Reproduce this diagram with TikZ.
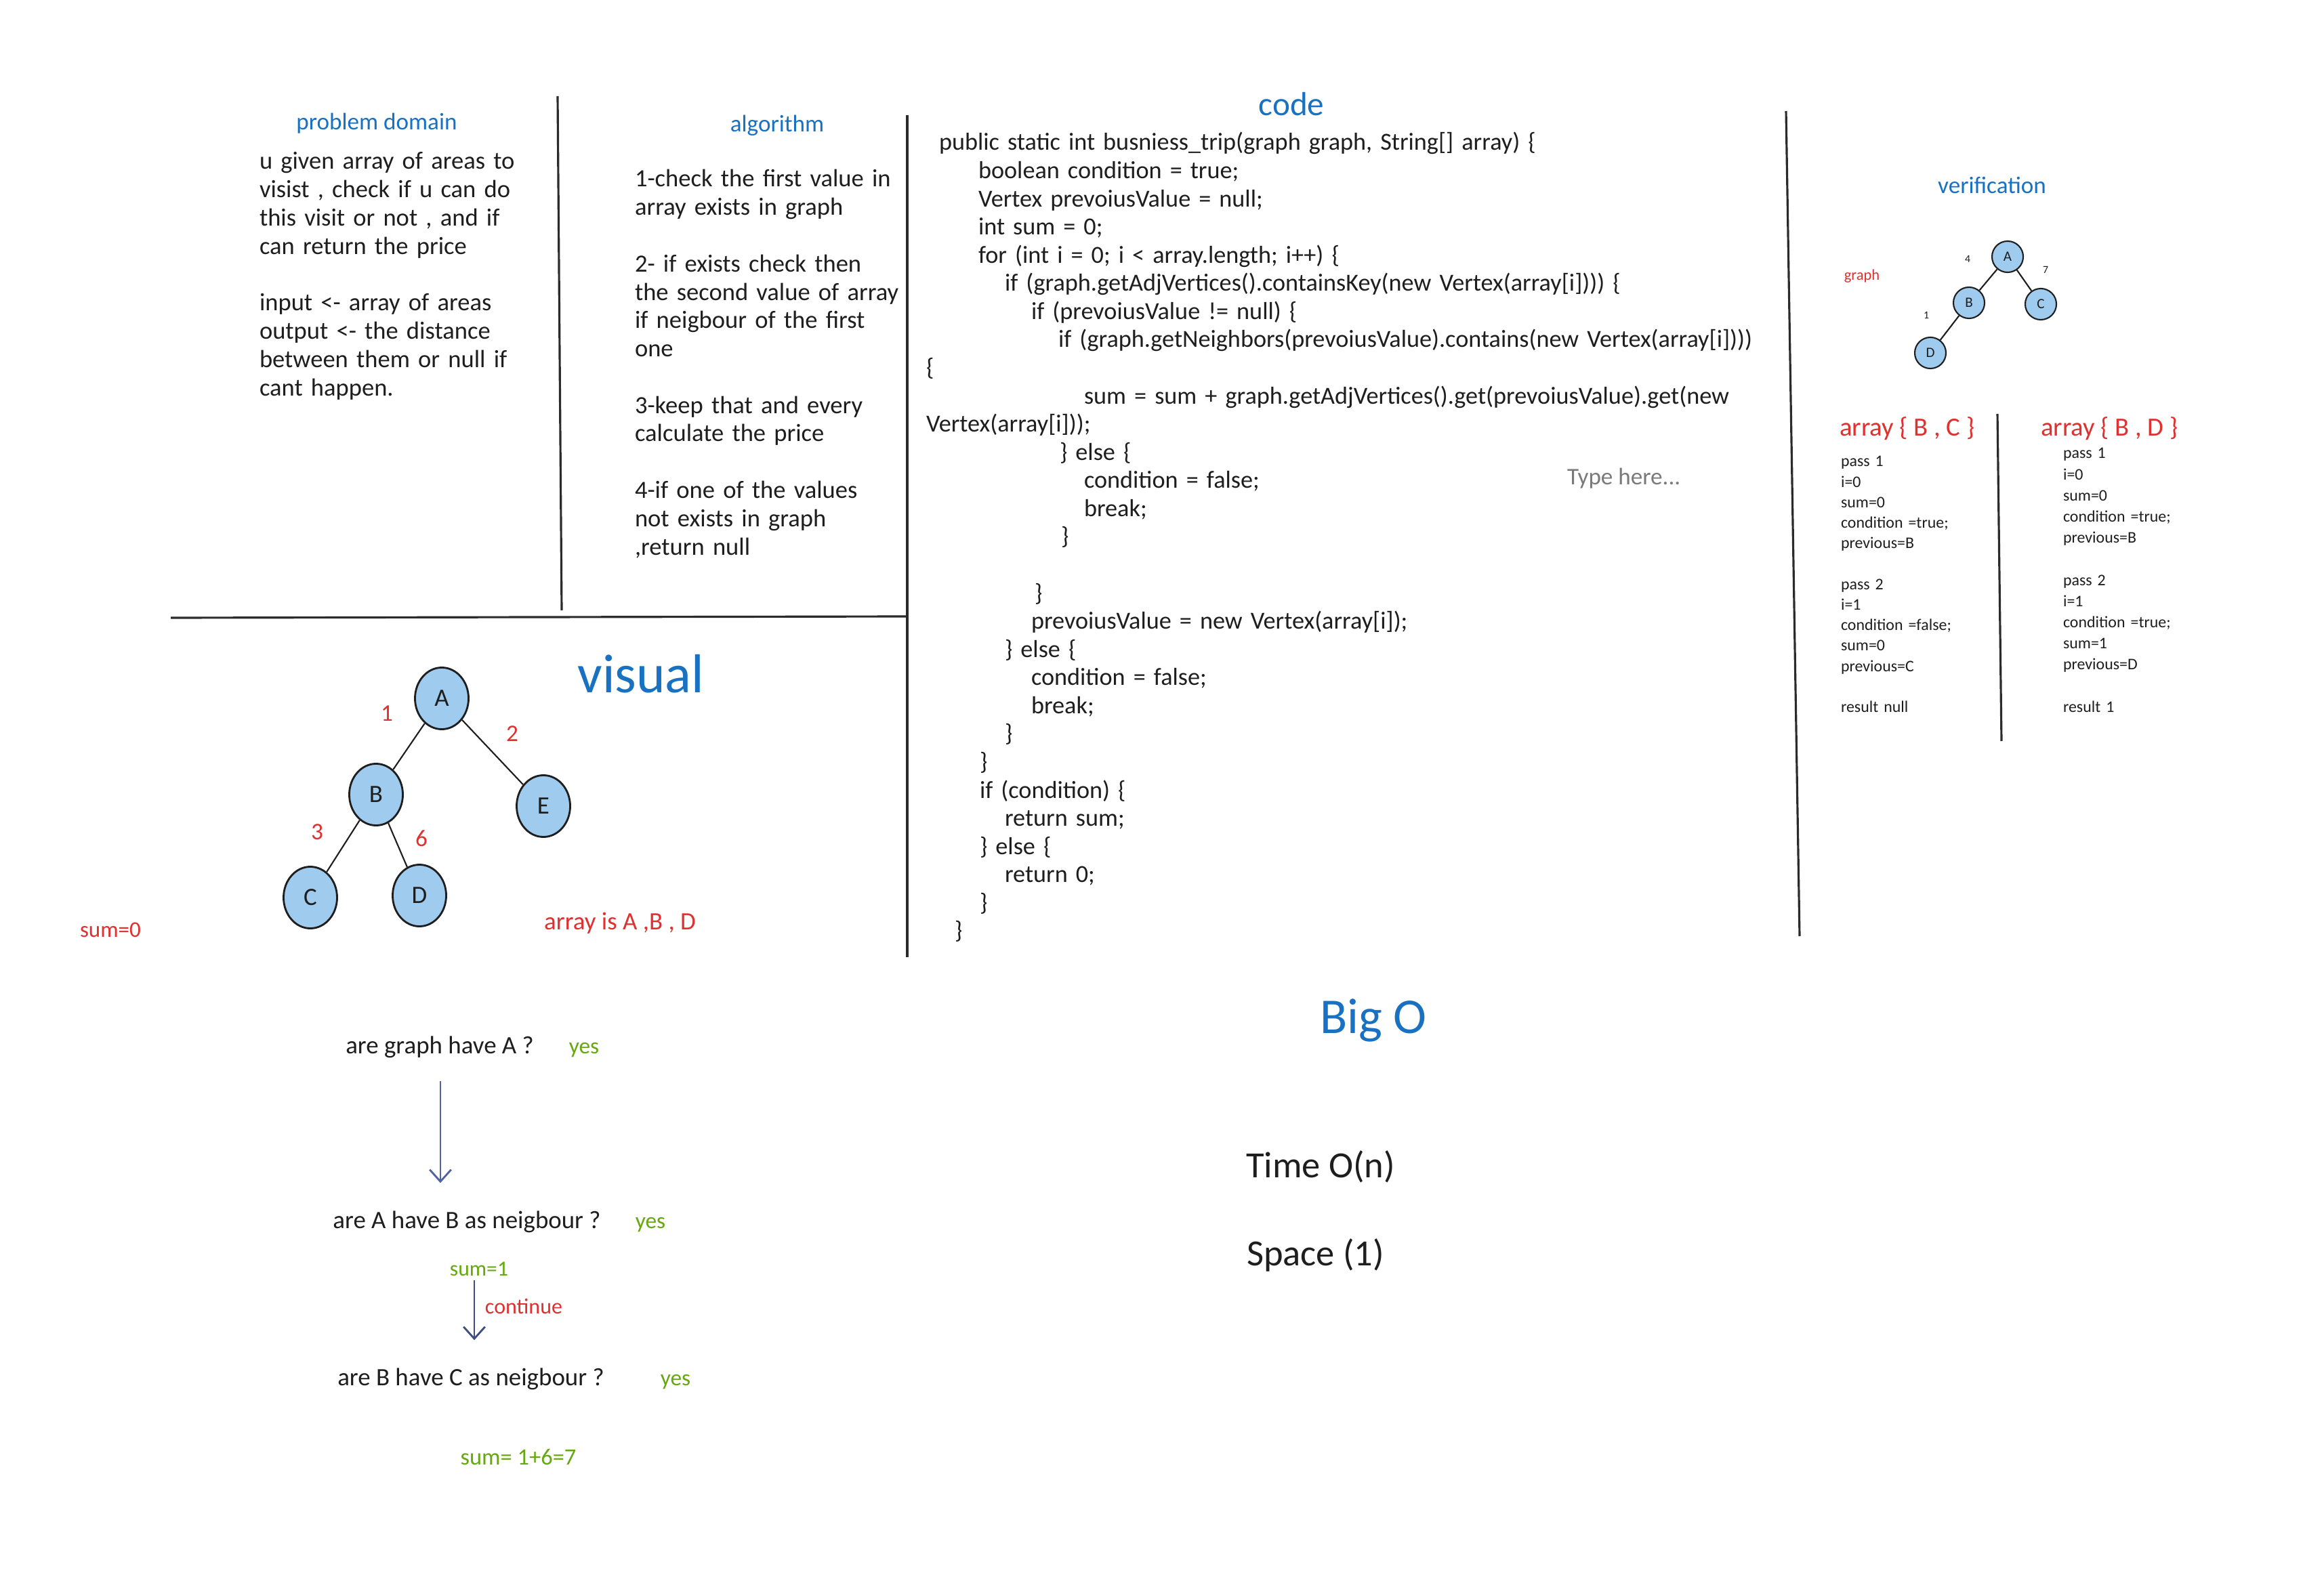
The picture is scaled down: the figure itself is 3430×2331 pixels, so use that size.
\documentclass[tikz,border=0pt]{standalone}
\usepackage{fontspec}
\setmainfont{Carlito}
\usetikzlibrary{shapes.geometric,arrows.meta}
\definecolor{ink}{HTML}{1E1E1E}
\definecolor{exblue}{HTML}{1971C2}
\definecolor{exred}{HTML}{E03131}
\definecolor{exgreen}{HTML}{66A80F}
\definecolor{nodefill}{HTML}{9FCBEF}
\definecolor{sepline}{HTML}{2B2B2B}
\definecolor{typegray}{HTML}{7A7A7A}
\definecolor{arrowblue}{HTML}{4F62A3}
\newcommand\fsz[2]{\fontsize{#1}{#2}\selectfont}
\newlength\pu \setlength\pu{0.01cm}
\tikzset{
  txt/.style={inner sep=0pt, outer sep=0pt, text=ink},
  title/.style={txt, text=exblue, font=\fsz{10}{12}},
  body/.style={txt, align=left, text width=6cm, font=\fsz{10.4}{11.88}},
  codetxt/.style={txt, align=left, text width=14cm, font=\fsz{10.3}{11.82}},
  small/.style={txt, align=left, text width=3cm, font=\fsz{6.8}{8.59}},
  sep/.style={draw=sepline, line width=0.9pt},
  bignode/.style={ellipse, draw=ink, fill=nodefill, line width=0.8pt, minimum width=0.79cm, minimum height=0.91cm, inner sep=0pt, font=\fsz{10.5}{12}, text=ink},
  smallnode/.style={circle, draw=ink, fill=nodefill, line width=0.6pt, minimum size=0.46cm, inner sep=0pt, font=\fsz{6}{7}, text=ink},
  edge/.style={draw=ink, line width=0.6pt},
  elabel/.style={txt, text=exred, font=\fsz{10}{12}},
  tinylabel/.style={txt, font=\fsz{4.5}{5}},
  question/.style={txt, anchor=base, font=\fsz{10.5}{12}},
  yes/.style={txt, anchor=base, text=exgreen, font=\fsz{9.5}{11}},
  flowarr/.style={draw=arrowblue, line width=0.8pt, -{Straight Barb[length=5pt,width=9pt]}}
}
\begin{document}
\begin{tikzpicture}[x=0.01cm, y=-0.01cm]
\useasboundingbox (0,0) rectangle (3430,2331);
\fill[white] (0,0) rectangle (3430,2331);

% separator lines
\draw[sep] (823,142) -- (829,901);
\draw[sep] (1339,170) -- (1339,1413);
\draw[sep] (252,912) -- (1339,910);
\draw[sep] (2636,164) -- (2656,1382);
\draw[sep] (2948,611) -- (2954,1094);

% problem domain
\node[title, anchor=base] (tpd) at (556,192) {problem domain};
\node[body, anchor=base west] (pd) at (383,250) {u given array of areas to\\ visist , check if u can do\\ this visit or not , and if\\ can return the price\\ \mbox{}\\ input <- array of areas\\ output <- the distance\\ between them or null if\\ cant happen.};

% algorithm
\node[title, anchor=base] (talg) at (1147,195) {algorithm};
\node[body, anchor=base west] (alg) at (937,276) {1-check the first value in\\ array exists in graph\\ \mbox{}\\ 2- if exists check then\\ the second value of array\\ if neigbour of the first\\ one\\ \mbox{}\\ 3-keep that and every\\ calculate the price\\ \mbox{}\\ 4-if one of the values\\ not exists in graph\\ ,return null};

% code
\node[title, anchor=base, font=\fsz{14}{16}] (tcode) at (1906,171) {code};
\node[codetxt, anchor=base west] (code) at (1367,222) {%
\hspace*{19\pu}public static int busniess\_trip(graph graph, String[] array) \{\\
\hspace*{77\pu}boolean condition = true;\\
\hspace*{77\pu}Vertex prevoiusValue = null;\\
\hspace*{77\pu}int sum = 0;\\
\hspace*{77\pu}for (int i = 0; i < array.length; i++) \{\\
\hspace*{116\pu}if (graph.getAdjVertices().containsKey(new Vertex(array[i]))) \{\\
\hspace*{155\pu}if (prevoiusValue != null) \{\\
\hspace*{195\pu}if (graph.getNeighbors(prevoiusValue).contains(new Vertex(array[i])))\\
\{\\
\hspace*{233\pu}sum = sum + graph.getAdjVertices().get(prevoiusValue).get(new\\
Vertex(array[i]));\\
\hspace*{197\pu}\} else \{\\
\hspace*{233\pu}condition = false;\\
\hspace*{233\pu}break;\\
\hspace*{199\pu}\}\\
\mbox{}\\
\hspace*{160\pu}\}\\
\hspace*{155\pu}prevoiusValue = new Vertex(array[i]);\\
\hspace*{116\pu}\} else \{\\
\hspace*{155\pu}condition = false;\\
\hspace*{155\pu}break;\\
\hspace*{116\pu}\}\\
\hspace*{79\pu}\}\\
\hspace*{79\pu}if (condition) \{\\
\hspace*{116\pu}return sum;\\
\hspace*{79\pu}\} else \{\\
\hspace*{116\pu}return 0;\\
\hspace*{79\pu}\}\\
\hspace*{42\pu}\}};
\node[txt, text=typegray, anchor=base west, font=\fsz{10}{12}] (typehere) at (2313,716) {Type here...};

% verification
\node[title, anchor=base] (tver) at (2940,286) {verification};
\node[txt, text=exred, anchor=base, font=\fsz{6.4}{8}] (vgraph) at (2748,414) {graph};
\node[smallnode] (vA) at (2963,379) {A};
\node[smallnode] (vB) at (2906,447) {B};
\node[smallnode] (vC) at (3012,449) {C};
\node[smallnode] (vD) at (2849,521) {D};
\draw[edge] (vA) -- (vB);
\draw[edge] (vA) -- (vC);
\draw[edge] (vB) -- (vD);
\node[tinylabel] (vl4) at (2904,382) {4};
\node[tinylabel] (vl7) at (3019,398) {7};
\node[tinylabel] (vl1) at (2843,465) {1};
\node[txt, text=exred, anchor=base west, font=\fsz{11}{13}] (arr1) at (2715,644) {array \{ B , C \}};
\node[txt, text=exred, anchor=base west, font=\fsz{11}{13}] (arr2) at (3012,644) {array \{ B , D \}};
\node[small, anchor=base west] (col1) at (2717,689) {pass 1\\ i=0\\ sum=0\\ condition =true;\\ previous=B\\ \mbox{}\\ pass 2\\ i=1\\ condition =false;\\ sum=0\\ previous=C\\ \mbox{}\\ result null};
\node[small, anchor=base west, font=\fsz{6.8}{8.87}] (col2) at (3045,677) {pass 1\\ i=0\\ sum=0\\ condition =true;\\ previous=B\\ \mbox{}\\ pass 2\\ i=1\\ condition =true;\\ sum=1\\ previous=D\\ \mbox{}\\ result 1};

% visual
\node[title, anchor=base, font=\fsz{23}{26}] (tvis) at (946,1022) {visual};
\node[bignode] (A) at (652,1031) {A};
\node[bignode] (B) at (555,1173) {B};
\node[bignode] (E) at (802,1190) {E};
\node[bignode] (C) at (458,1325) {C};
\node[bignode] (D) at (619,1322) {D};
\draw[edge] (A) -- (B);
\draw[edge] (A) -- (E);
\draw[edge] (B) -- (C);
\draw[edge] (B) -- (D);
\node[elabel] (e1) at (571,1053) {1};
\node[elabel] (e2) at (756,1083) {2};
\node[elabel] (e3) at (468,1228) {3};
\node[elabel] (e6) at (622,1238) {6};
\node[txt, text=exred, anchor=base, font=\fsz{9.4}{11}] (sum0) at (163,1383) {sum=0};
\node[txt, text=exred, anchor=base, font=\fsz{10.5}{12}] (arris) at (915,1372) {array is A ,B , D};

% flow
\node[question] (q1) at (649,1555) {are graph have A ?};
\node[yes] (y1) at (862,1555) {yes};
\node[question] (q2) at (689,1813) {are A have B as neigbour ?};
\node[yes] (y2) at (960,1813) {yes};
\node[yes, font=\fsz{9}{11}] (s1) at (707,1883) {sum=1};
\node[txt, anchor=base, text=exred, font=\fsz{9.1}{11}] (cont) at (773,1939) {continue};
\node[question] (q3) at (695,2045) {are B have C as neigbour ?};
\node[yes] (y3) at (997,2045) {yes};
\node[yes, font=\fsz{9.8}{11}] (s7) at (765,2162) {sum= 1+6=7};
\draw[flowarr, shorten <=0.35cm, shorten >=0.41cm] ([xshift=1\pu]q1.south) -- ([xshift=1\pu]q1.south |- q2.north);
\draw[flowarr, draw=arrowblue!80!black, shorten <=0.07cm, shorten >=0.41cm] ([xshift=-7\pu]s1.south) -- ([xshift=-7\pu]s1.south |- q3.north);

% big O
\node[title, anchor=base, font=\fsz{21}{24}] (tbigo) at (2027,1525) {Big O};
\node[txt, anchor=base west, font=\fsz{15.5}{18}] (time) at (1839,1738) {Time O(n)};
\node[txt, anchor=base west, font=\fsz{15.5}{18}] (space) at (1840,1868) {Space (1)};
\end{tikzpicture}
\end{document}
